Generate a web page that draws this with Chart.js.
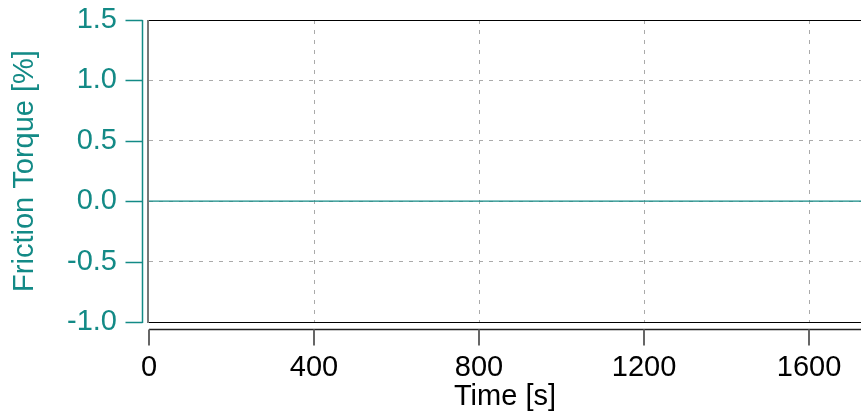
<!DOCTYPE html>
<html>
<head>
<meta charset="utf-8">
<script src="https://cdn.jsdelivr.net/npm/chart.js@4"></script>
<style>
  body { margin: 0; background: #fff; }
  #wrap { width: 861px; height: 417px; position: relative; }
</style>
</head>
<body>
<div id="wrap"><canvas id="grafico"></canvas></div>
<script>
// dados
const timeS = [0, 1800];
const frictionTorque = [0, 0];
const xTicks = [0, 400, 800, 1200, 1600];
const yTicks = [-1.0, -0.5, 0.0, 0.5, 1.0, 1.5];

const teal = '#138a86';
const fonte = { family: "'Liberation Sans', Arial, sans-serif", size: 29 };

// zera o padding automatico das escalas
function semPadding(s) {
  s.paddingTop = 0; s.paddingBottom = 0;
  s.paddingLeft = 0; s.paddingRight = 0;
}

// moldura do grafico + eixos deslocados
const moldura = {
  id: 'moldura',
  afterDraw(chart) {
    const { ctx, chartArea: a, scales: { x, y } } = chart;
    ctx.save();
    // topo e base
    ctx.strokeStyle = '#000';
    ctx.lineWidth = 1;
    ctx.beginPath();
    ctx.moveTo(a.left, a.top + 0.5); ctx.lineTo(a.right, a.top + 0.5);
    ctx.moveTo(a.left, a.bottom + 0.5); ctx.lineTo(a.right, a.bottom + 0.5);
    ctx.stroke();
    // lado esquerdo
    ctx.strokeStyle = '#777';
    ctx.lineWidth = 2;
    ctx.beginPath();
    ctx.moveTo(a.left - 1, a.top); ctx.lineTo(a.left - 1, a.bottom + 1);
    ctx.stroke();

    // eixo x
    const ax = a.bottom + 7.5;
    ctx.strokeStyle = '#222';
    ctx.lineWidth = 1.5;
    ctx.beginPath();
    ctx.moveTo(a.left, ax); ctx.lineTo(a.right, ax);
    ctx.stroke();
    ctx.strokeStyle = '#666';
    ctx.lineWidth = 2;
    ctx.beginPath();
    xTicks.forEach(v => {
      const px = Math.round(x.getPixelForValue(v));
      ctx.moveTo(px, ax); ctx.lineTo(px, ax + 16);
    });
    ctx.stroke();

    // eixo y
    const ay = a.left - 6.5;
    ctx.strokeStyle = teal;
    ctx.lineWidth = 1.5;
    ctx.beginPath();
    ctx.moveTo(ay, a.top); ctx.lineTo(ay, a.bottom + 1);
    yTicks.forEach(v => {
      const py = Math.round(y.getPixelForValue(v)) + 0.5;
      ctx.moveTo(ay - 17, py); ctx.lineTo(ay, py);
    });
    ctx.stroke();
    ctx.restore();
  }
};

new Chart(document.getElementById('grafico'), {
  type: 'line',
  data: {
    datasets: [{
      label: 'Friction Torque',
      data: timeS.map((t, i) => ({ x: t, y: frictionTorque[i] })),
      borderColor: teal,
      borderWidth: 1.2,
      pointRadius: 0,
      fill: false
    }]
  },
  options: {
    responsive: true,
    maintainAspectRatio: false,
    animation: false,
    layout: { autoPadding: false, padding: { top: 20, left: 0, right: 0, bottom: 0 } },
    plugins: { legend: { display: false }, tooltip: { enabled: false } },
    scales: {
      x: {
        type: 'linear',
        min: 0,
        max: 1726,
        afterBuildTicks: s => { s.ticks = xTicks.map(v => ({ value: v })); },
        afterFit: s => { s.height = 95; semPadding(s); },
        grid: {
          drawTicks: false,
          lineWidth: 1,
          color: c => (c.tick && c.tick.value === 0 ? 'rgba(0,0,0,0)' : '#aaa')
        },
        border: { display: false, dash: [4, 6] },
        ticks: { color: '#000', font: fonte, padding: 29, maxRotation: 0, callback: v => String(v) },
        title: { display: true, text: 'Time [s]', color: '#000', font: fonte, padding: { top: 0, bottom: 3 } }
      },
      y: {
        min: -1.0,
        max: 1.5,
        afterBuildTicks: s => { s.ticks = yTicks.map(v => ({ value: v })); },
        afterFit: s => { s.width = 149; semPadding(s); },
        grid: {
          drawTicks: false,
          lineWidth: 1,
          color: '#aaa'
        },
        border: { display: false, dash: [4, 6] },
        ticks: { color: teal, font: fonte, padding: 32, callback: v => v.toFixed(1) },
        title: { display: true, text: 'Friction Torque [%]', color: teal, font: fonte, padding: { top: 8, bottom: 0 } }
      }
    }
  },
  plugins: [moldura]
});
</script>
</body>
</html>
